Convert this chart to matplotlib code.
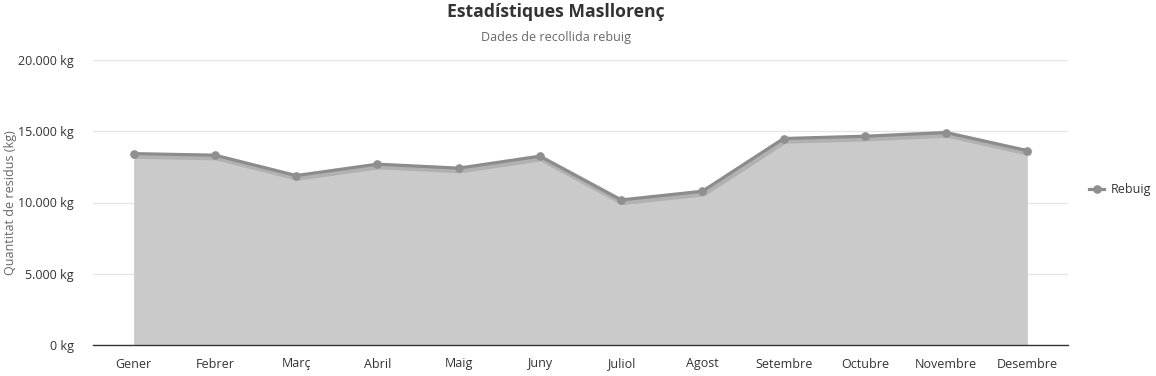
import matplotlib
matplotlib.use('Agg')
import matplotlib.pyplot as plt
import matplotlib.patheffects as pe
from matplotlib.lines import Line2D
from matplotlib.ticker import FuncFormatter

months = ['Gener', 'Febrer', 'Març', 'Abril', 'Maig', 'Juny',
          'Juliol', 'Agost', 'Setembre', 'Octubre', 'Novembre', 'Desembre']
rebuig = [13430, 13320, 11890, 12690, 12410, 13250,
          10180, 10790, 14490, 14650, 14910, 13640]
y_ticks = [0, 5000, 10000, 15000, 20000]

plt.rcParams['font.family'] = ['Open Sans', 'DejaVu Sans']

fig = plt.figure(figsize=(11.56, 3.76), dpi=100)
ax = fig.add_axes([93/1156, 31/376, 975/1156, 285/376])

x = list(range(len(months)))
ax.fill_between(x, rebuig, 0, color='#cacaca', lw=0, zorder=2)
# line with a soft shadow, markers drawn on top without it
ax.plot(x, rebuig, color='#8c8c8c', lw=2.3, zorder=3,
        path_effects=[pe.SimpleLineShadow(offset=(1, -1.5), shadow_color='black', alpha=0.12, linewidth=4.5),
                      pe.Normal()])
ax.plot(x, rebuig, ls='none', marker='o', ms=5.2, color='#8f8f8f', zorder=4)

ax.set_xlim(-0.5, 11.5)
ax.set_ylim(0, 20000)
ax.set_xticks(x)
ax.set_xticklabels(months)
ax.set_yticks(y_ticks)
ax.yaxis.set_major_formatter(FuncFormatter(lambda v, p: f'{int(v):,} kg'.replace(',', '.')))
ax.grid(axis='y', color='#e6e6e6', lw=1, zorder=0)
ax.set_axisbelow(True)
for s in ['top', 'right', 'left']:
    ax.spines[s].set_visible(False)
ax.spines['bottom'].set_color('#333333')
ax.spines['bottom'].set_linewidth(1)
ax.tick_params(axis='both', length=0, labelsize=9, colors='#333333', pad=9)
ax.tick_params(axis='y', pad=14)
ax.set_ylabel('Quantitat de residus (kg)', fontsize=9, color='#666666')
ax.yaxis.set_label_coords(-0.078, 0.5)

fig.text(556/1156, 1 - 12/376, 'Estadístiques Masllorenç', ha='center', va='center',
         fontsize=12.7, fontweight='bold', color='#333333')
fig.text(556/1156, 1 - 38/376, 'Dades de recollida rebuig', ha='center', va='center',
         fontsize=9, color='#666666')

handle = Line2D([], [], color='#8c8c8c', lw=2.3, marker='o', ms=5.2,
                markerfacecolor='#8f8f8f', markeredgecolor='#8f8f8f')
leg = fig.legend(handles=[handle], labels=['Rebuig'], loc='center left',
                 bbox_to_anchor=(1078/1156, 1 - 190/376),
                 frameon=False, fontsize=9, handlelength=1.2, handletextpad=0.5)
for t in leg.get_texts():
    t.set_color('#333333')

fig.savefig('out.png', dpi=100)
